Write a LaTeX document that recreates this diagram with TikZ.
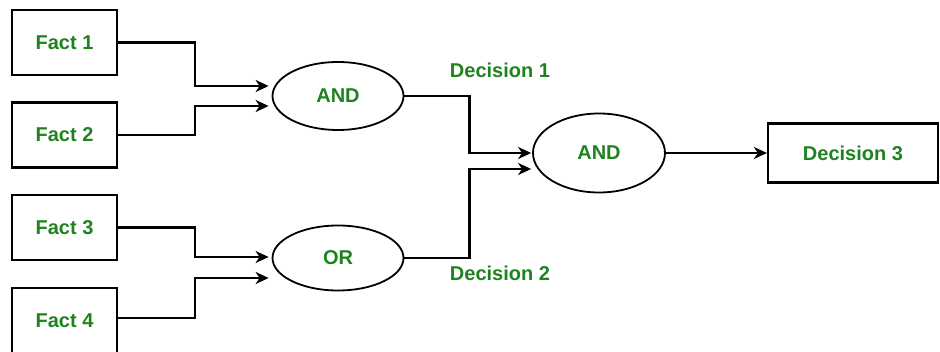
\documentclass[tikz,border=0pt]{standalone}
\usepackage{fontspec}
\setmainfont{Liberation Sans}
\usetikzlibrary{shapes.geometric,arrows.meta,calc}
\definecolor{labelgreen}{RGB}{30,130,30}
\begin{document}
\begin{tikzpicture}[x=1pt,y=-1pt,
  txt/.style={font=\fontsize{20}{23}\selectfont\bfseries, text=labelgreen},
  factbox/.style={draw, line width=2.2pt, rectangle, minimum width=105pt, minimum height=65pt, inner sep=0pt, txt},
  gate/.style={draw, line width=1.8pt, ellipse, inner sep=0pt, txt},
  wire/.style={line width=2.2pt, -{Stealth[length=13pt,width=12pt,inset=4pt]}},
]
\useasboundingbox (0,0) rectangle (940,352);

% input facts
\node[factbox] (f1) at (64.5,42.5) {Fact 1};
\node[factbox] (f2) at (64.5,135) {Fact 2};
\node[factbox] (f3) at (64.5,227.5) {Fact 3};
\node[factbox] (f4) at (64.5,320.5) {Fact 4};

% logic gates
\node[gate, minimum width=131pt, minimum height=68pt] (and1) at (338,96) {AND};
\node[gate, minimum width=131pt, minimum height=65pt] (or1) at (338,258) {OR};
\node[gate, minimum width=132pt, minimum height=79pt] (and2) at (599,153) {AND};

% final decision
\node[factbox, minimum width=170pt, minimum height=59pt] (d3) at (853,153) {Decision 3};

% intermediate decision labels
\node[txt] (d1lbl) at (500,70) {Decision 1};
\node[txt] (d2lbl) at (500,273) {Decision 2};

% arrow targets on the gates
\coordinate (a1in1) at ($(and1.west)+(-3,-10)$);
\coordinate (a1in2) at ($(and1.west)+(-3,10)$);
\coordinate (orin1) at ($(or1.west)+(-3,-1)$);
\coordinate (orin2) at ($(or1.west)+(-3,20)$);
\coordinate (a2in1) at ($(and2.west)+(-1,0)$);
\coordinate (a2in2) at ($(and2.west)+(-1,16)$);

% fact wiring
\draw[wire] (f1.east) -- ++(77,0) |- (a1in1);
\draw[wire] (f2.east) -- ++(77,0) |- (a1in2);
\draw[wire] (f3.east) -- ++(77,0) |- (orin1);
\draw[wire] ($(f4.east)+(0,-2.5)$) -- ++(77,0) |- (orin2);

% gate wiring
\draw[wire] (and1.east) -- ++(65,0) |- (a2in1);
\draw[wire] (or1.east) -- ++(65,0) |- (a2in2);
\draw[wire] (and2.east) -- (d3.west);
\end{tikzpicture}
\end{document}
